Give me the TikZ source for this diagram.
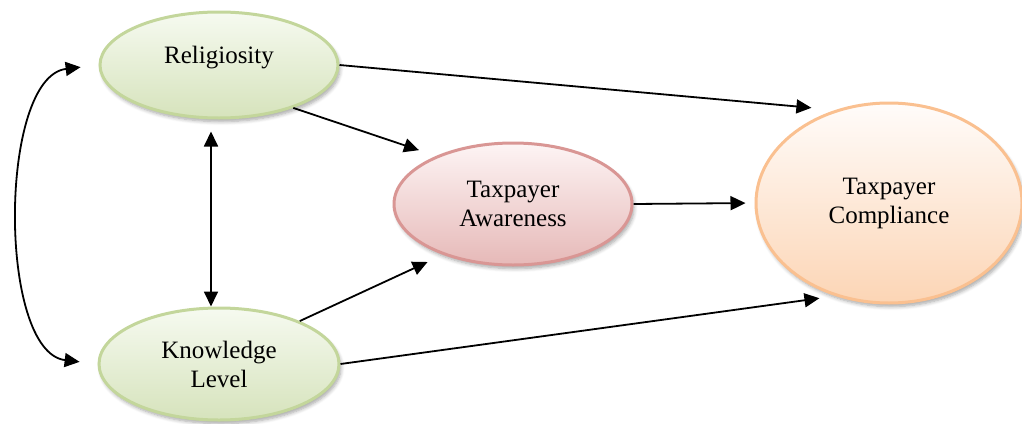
\documentclass[tikz,border=0pt]{standalone}
\usepackage{fontspec}
\setmainfont{Liberation Serif}
\usetikzlibrary{shapes.geometric,arrows.meta,shadows.blur}
\definecolor{greenline}{HTML}{C3D69B}
\definecolor{greentop}{HTML}{F6FAF0}
\definecolor{greenbot}{HTML}{D6E3BC}
\definecolor{pinkline}{HTML}{D99694}
\definecolor{pinktop}{HTML}{FDF4F4}
\definecolor{pinkbot}{HTML}{E6B9B8}
\definecolor{orangeline}{HTML}{FAC090}
\definecolor{orangetop}{HTML}{FFFCFA}
\definecolor{orangebot}{HTML}{FCD5B5}
\begin{document}
\begin{tikzpicture}[x=0.5pt,y=-0.5pt,
    oval/.style={ellipse,line width=1.5pt,inner sep=0pt,align=center,
        font=\fontsize{12.5}{14.5}\selectfont,
        blur shadow={shadow xshift=1pt,shadow yshift=-1.8pt,shadow blur steps=6,shadow opacity=35}},
    greenoval/.style={oval,draw=greenline,top color=greentop,bottom color=greenbot},
    pinkoval/.style={oval,draw=pinkline,top color=pinktop,bottom color=pinkbot},
    orangeoval/.style={oval,draw=orangeline,top color=orangetop,bottom color=orangebot},
    link/.style={line width=0.9pt,-{Triangle[length=7.5pt,width=7pt]}},
    twolink/.style={line width=0.9pt,{Triangle[length=7.5pt,width=7pt]}-{Triangle[length=7.5pt,width=7pt]}}]
    \useasboundingbox (0,0) rectangle (1022,423);

    % Constructs
    \node[greenoval,minimum width=119pt,minimum height=53pt,text depth=10pt] (relig) at (219,65) {Religiosity};
    \node[greenoval,minimum width=120pt,minimum height=56pt] (know) at (219,364) {Knowledge\\Level};
    \node[pinkoval,minimum width=119pt,minimum height=61pt] (aware) at (513,204) {Taxpayer\\Awareness};
    \node[orangeoval,minimum width=133pt,minimum height=100pt] (comply) at (889,203) {Taxpayer\\Compliance};

    % Paths
    \draw[link,shorten >=12pt] (relig.east) -- (comply.120);
    \draw[link,shorten >=9pt] (relig.-30) -- (aware.148);
    \draw[link,shorten >=4.5pt] (aware.east) -- (comply.west);
    \draw[link,shorten >=8.5pt] (know.28) -- (aware.216);
    \draw[link,shorten >=8pt] (know.east) -- (comply.240);

    % Correlations
    \draw[twolink,shorten <=6pt] ([xshift=-4pt]relig.south) -- ([xshift=-4pt]know.north);
    \draw[twolink,shorten <=9pt,shorten >=9pt] (relig.west) .. controls +(-100,12) and +(-100,-12) .. (know.west);
\end{tikzpicture}
\end{document}
